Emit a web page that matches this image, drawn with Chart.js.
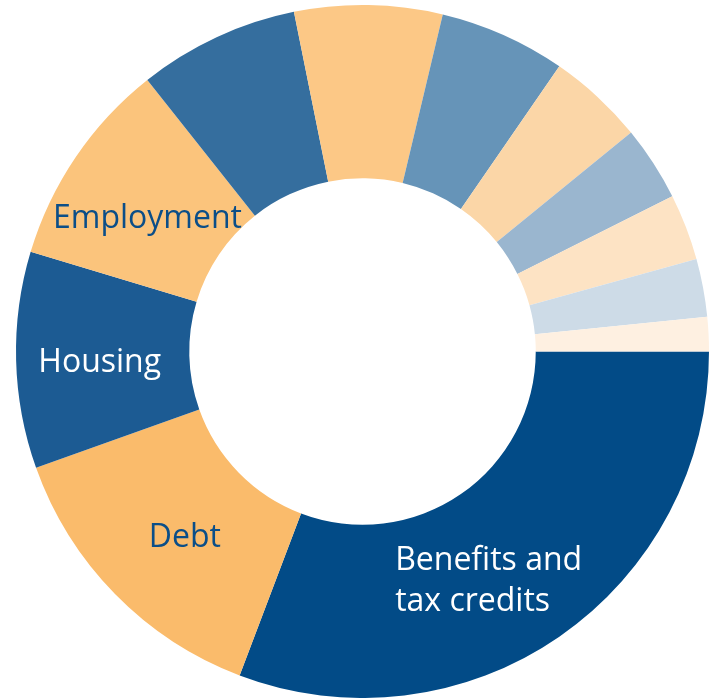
<!DOCTYPE html>
<html>
<head>
<meta charset="utf-8">
<script src="https://cdn.jsdelivr.net/npm/chart.js@4"></script>
<style>
  html, body { margin: 0; padding: 0; background: #fff; }
  #wrap { width: 715px; height: 698px; }
</style>
</head>
<body>
<div id="wrap"><canvas id="adviceChart"></canvas></div>
<script>
// share of advice issues, largest first, clockwise from 3 o'clock
const categories = ["Benefits and tax credits", "Debt", "Housing", "Employment",
                    "", "", "", "", "", "", "", ""];
const shares = [30.8, 13.8, 10.1, 9.7, 7.5, 6.9, 5.9, 4.5, 3.5, 3.1, 2.7, 1.6];
const colours = ["#024b87", "#fabb6b", "#1c5b93", "#fbc47c", "#356e9e", "#fcc886",
                 "#6694b8", "#fbd6a7", "#9ab6cf", "#fde3c4", "#cddbe7", "#fef0e1"];
const textColours = ["#ffffff", "#0b4e88", "#ffffff", "#0b4e88"];

// label lines per slice plus a small nudge from the slice centre
const labelLines = [["Benefits and", "tax credits"], ["Debt"], ["Housing"], ["Employment"]];
const labelNudge = [[-115, 16, "left"], [8, 5, "center"], [-3, 5, "center"], [0, 13, "center"]];

const sliceLabels = {
    id: "sliceLabels",
    afterDatasetsDraw(chart) {
        const ctx = chart.ctx;
        const arcs = chart.getDatasetMeta(0).data;
        ctx.save();
        ctx.font = "32px 'Open Sans'";
        ctx.textBaseline = "middle";
        labelLines.forEach((lines, i) => {
            const a = arcs[i].getProps(["x", "y", "startAngle", "endAngle", "innerRadius", "outerRadius"], true);
            const mid = (a.startAngle + a.endAngle) / 2;
            const r = (a.innerRadius + a.outerRadius) / 2;
            const [dx, dy, align] = labelNudge[i];
            const cx = a.x + Math.cos(mid) * r + dx;
            const cy = a.y + Math.sin(mid) * r + dy;
            const lh = 41;
            ctx.fillStyle = textColours[i];
            ctx.textAlign = align;
            lines.forEach((t, k) => {
                ctx.fillText(t, cx, cy + (k - (lines.length - 1) / 2) * lh);
            });
        });
        ctx.restore();
    }
};

new Chart(document.getElementById("adviceChart"), {
    type: "doughnut",
    data: {
        labels: categories,
        datasets: [{
            data: shares,
            backgroundColor: colours,
            borderWidth: 0,
            hoverOffset: 0
        }]
    },
    options: {
        responsive: true,
        maintainAspectRatio: false,
        animation: false,
        rotation: 90,
        cutout: "50%",
        layout: { padding: { left: 10, top: 5, right: 0, bottom: 0 } },
        plugins: {
            legend: { display: false },
            tooltip: { enabled: false }
        }
    },
    plugins: [sliceLabels]
});
</script>
</body>
</html>
